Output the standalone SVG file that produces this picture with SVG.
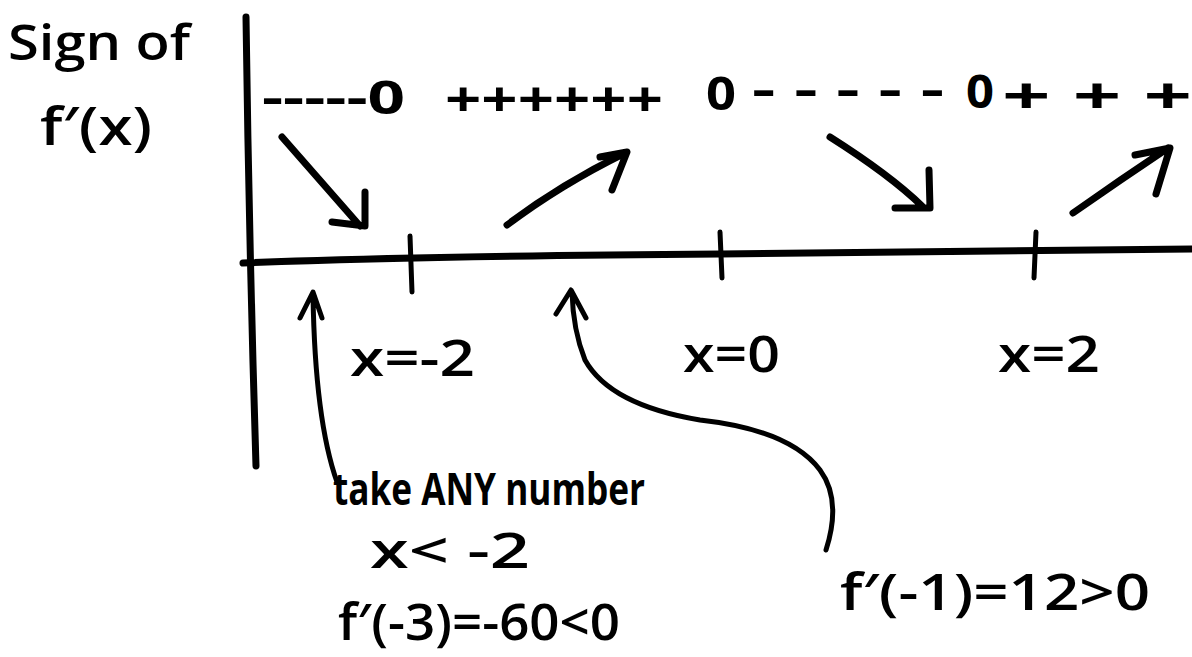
<svg xmlns="http://www.w3.org/2000/svg" width="1192" height="657" viewBox="0 0 1192 657">
<style>
.t{font-family:"Open Sans","Liberation Sans",sans-serif;font-weight:600;fill:#000}
.b{font-weight:bold}
.s{fill:none;stroke:#000;stroke-width:7;stroke-linecap:round;stroke-linejoin:round}
.th{fill:none;stroke:#000;stroke-width:5;stroke-linecap:round;stroke-linejoin:round}
</style>
<rect width="1192" height="657" fill="#fff"/>
<g id="axes">
<path class="s" d="M246,17 Q249,240 256,466"/>
<path class="s" d="M243,263 Q420,256 720,254 Q950,252 1192,249"/>
<path class="th" d="M410,236 L412,292"/>
<path class="th" d="M720,232 L722,278"/>
<path class="th" d="M1036,232 L1034,278"/>
</g>
<g id="ylabel">
<text class="t" x="8" y="60" font-size="48" textLength="182" lengthAdjust="spacingAndGlyphs">Sign of</text>
<text class="t" x="40" y="145" font-size="52" textLength="112" lengthAdjust="spacingAndGlyphs">f′(x)</text>
</g>
<g id="signrow">
<text class="t b" x="262" y="114" font-size="46" textLength="143" lengthAdjust="spacingAndGlyphs">-----0</text>
<text class="t b" x="445" y="116" font-size="48" textLength="218" lengthAdjust="spacingAndGlyphs">++++++</text>
<text class="t b" x="706" y="110" font-size="46" textLength="30" lengthAdjust="spacingAndGlyphs">0</text>
<text class="t b" x="752" y="106" font-size="46" textLength="192" lengthAdjust="spacingAndGlyphs">- - - - -</text>
<text class="t b" x="966" y="108" font-size="46" textLength="28" lengthAdjust="spacingAndGlyphs">0</text>
<text class="t b" x="1002" y="114" font-size="50" textLength="190" lengthAdjust="spacingAndGlyphs">+ + +</text>
</g>
<g id="connectors">
<path class="s" d="M282,137 L360,226 M365,192 L365,226 L332,222"/>
<path class="s" d="M507,225 Q560,185 625,153 M600,157 L627,152 L612,190"/>
<path class="s" d="M830,137 Q890,175 922,206 M929,170 L930,208 L895,208"/>
<path class="s" d="M1073,213 Q1120,180 1168,148 M1135,155 L1170,148 L1156,194"/>
<path class="th" d="M337,482 Q315,420 313,295 M300,318 L313,292 L322,318"/>
<path class="th" d="M826,550 Q842,500 820,470 Q790,430 700,420 Q610,405 585,360 Q573,330 572,292 M556,314 L571,290 L586,318"/>
</g>
<g id="xlabels">
<text class="t" x="350" y="376" font-size="50" textLength="125" lengthAdjust="spacingAndGlyphs">x=-2</text>
<text class="t" x="683" y="372" font-size="50" textLength="97" lengthAdjust="spacingAndGlyphs">x=0</text>
<text class="t" x="998" y="372" font-size="50" textLength="102" lengthAdjust="spacingAndGlyphs">x=2</text>
</g>
<g id="note1">
<text class="t b" x="333" y="505" font-size="44" textLength="312" lengthAdjust="spacingAndGlyphs">take ANY number</text>
<text class="t" x="370" y="568" font-size="48" textLength="160" lengthAdjust="spacingAndGlyphs">x&lt; -2</text>
<text class="t" x="338" y="640" font-size="50" textLength="282" lengthAdjust="spacingAndGlyphs">f′(-3)=-60&lt;0</text>
</g>
<g id="note2">
<text class="t" x="840" y="610" font-size="50" textLength="310" lengthAdjust="spacingAndGlyphs">f′(-1)=12&gt;0</text>
</g>
</svg>
